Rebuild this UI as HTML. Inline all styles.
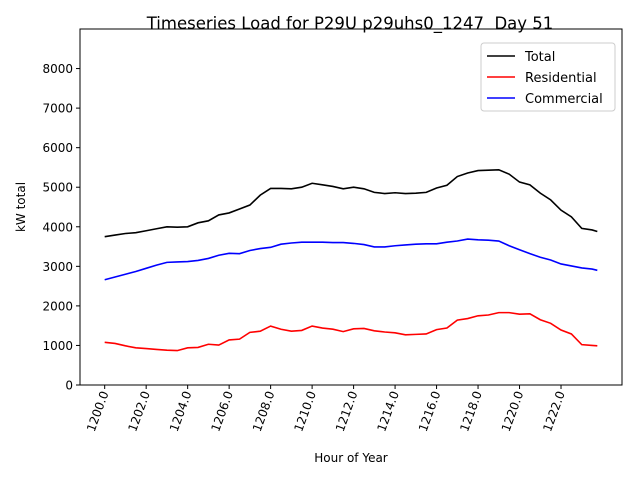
<!DOCTYPE html>
<html><head><meta charset="utf-8"><style>
body{margin:0;background:#fff;}
svg text{font-family:"DejaVu Sans","Liberation Sans",sans-serif;}
</style></head><body>
<svg id="c" width="640" height="480" xmlns="http://www.w3.org/2000/svg">
<rect width="640" height="480" fill="#fff"/>
<text x="350" y="29" font-size="16.5" text-anchor="middle" style="white-space:pre">Timeseries Load for P29U p29uhs0_1247  Day 51</text>
<g id="plot"></g>
<rect x="80" y="29" width="542" height="356" fill="none" stroke="#000" stroke-width="1"/>
<text x="351" y="462" font-size="12" text-anchor="middle">Hour of Year</text>
<text transform="translate(25,207) rotate(-90)" font-size="12" text-anchor="middle">kW total</text>
<g>
<rect x="481" y="43" width="134" height="68" rx="3" fill="#fff" stroke="#ccc"/>
<line x1="487" y1="56" x2="515" y2="56" stroke="#000" stroke-width="1.6"/>
<text x="525" y="61" font-size="13">Total</text>
<line x1="487" y1="77" x2="515" y2="77" stroke="#f00" stroke-width="1.6"/>
<text x="525" y="82" font-size="13">Residential</text>
<line x1="487" y1="98" x2="515" y2="98" stroke="#00f" stroke-width="1.6"/>
<text x="525" y="103" font-size="13">Commercial</text>
</g>
</svg>
<script>
const hours=[1200,1200.5,1201,1201.5,1202,1202.5,1203,1203.5,1204,1204.5,1205,1205.5,1206,1206.5,1207,1207.5,1208,1208.5,1209,1209.5,1210,1210.5,1211,1211.5,1212,1212.5,1213,1213.5,1214,1214.5,1215,1215.5,1216,1216.5,1217,1217.5,1218,1218.5,1219,1219.5,1220,1220.5,1221,1221.5,1222,1222.5,1223,1223.5,1223.75];
const total=[3750,3790,3830,3850,3900,3950,4000,3990,4000,4100,4150,4300,4350,4450,4550,4800,4970,4970,4960,5000,5100,5060,5020,4960,5000,4960,4870,4840,4860,4840,4850,4870,4980,5050,5270,5360,5420,5430,5440,5330,5130,5060,4850,4680,4420,4250,3960,3920,3880];
const residential=[1080,1050,990,940,920,900,880,870,940,950,1030,1010,1140,1160,1330,1360,1490,1410,1360,1380,1490,1440,1410,1350,1420,1430,1370,1340,1320,1270,1280,1290,1400,1440,1640,1680,1750,1770,1830,1830,1790,1800,1650,1560,1390,1290,1020,1000,990];
const commercial=[2660,2730,2800,2870,2950,3030,3100,3110,3120,3150,3200,3280,3330,3320,3400,3450,3480,3560,3590,3610,3610,3610,3600,3600,3580,3550,3490,3490,3520,3540,3560,3570,3570,3610,3640,3690,3670,3660,3640,3520,3420,3320,3230,3160,3060,3010,2960,2930,2900];
const yTicks=[0,1000,2000,3000,4000,5000,6000,7000,8000];
const xTicks=[1200,1202,1204,1206,1208,1210,1212,1214,1216,1218,1220,1222];
const L=80,R=622,T=29,B=385,xmin=1198.81,xmax=1224.94,ymax=9000;
const xs=h=>L+(h-xmin)/(xmax-xmin)*(R-L);
const ys=v=>B-v/ymax*(B-T);
const NS="http://www.w3.org/2000/svg";
const g=document.getElementById('plot');
function mk(t,a){const e=document.createElementNS(NS,t);for(const k in a)e.setAttribute(k,a[k]);g.appendChild(e);return e;}
yTicks.forEach(v=>{
 const l=mk('line',{x1:L-4,x2:L,y1:ys(v),y2:ys(v),stroke:'#000'});
 
 
 const t=mk('text',{x:L-7,y:ys(v)+4.5,'font-size':12,'text-anchor':'end'});
 t.textContent=v;
 
 
});
xTicks.forEach(h=>{
 const x=xs(h);
 const l=mk('line',{x1:x,x2:x,y1:B,y2:B+4,stroke:'#000'});
 
 
 const t=mk('text',{transform:`translate(${x+4},${B+8}) rotate(-70)`,'font-size':12,'text-anchor':'end'});
 t.textContent=h.toFixed(1);
 
 
});
[[total,'#000','total-line'],[residential,'#f00','residential-line'],[commercial,'#00f','commercial-line']].forEach(([d,c,n])=>{
 const p=mk('polyline',{points:d.map((v,i)=>xs(hours[i])+','+ys(v)).join(' '),fill:'none',stroke:c,'stroke-width':1.6});
 
 
});
</script>
</body></html>
